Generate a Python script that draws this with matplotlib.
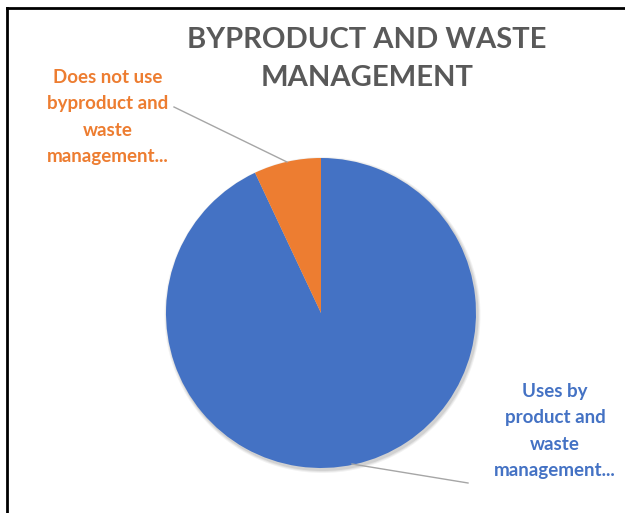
import matplotlib
matplotlib.use('Agg')
import matplotlib.pyplot as plt
from matplotlib.patches import Circle

# --- data --- #
labels = ['Uses by\nproduct and\nwaste\nmanagement...',
          'Does not use\nbyproduct and\nwaste\nmanagement...']
values = [93, 7]
colors = ['#4472C4', '#ED7D31']
title = 'BYPRODUCT AND WASTE\nMANAGEMENT'

# canvas in pixel units (y measured from bottom)
W, H = 625, 513
fig = plt.figure(figsize=(W / 100, H / 100), dpi=100)
ax = fig.add_axes([0, 0, 1, 1])
ax.set_xlim(0, W)
ax.set_ylim(0, H)
ax.set_aspect('equal')
ax.axis('off')

cx, cy, r = 321, H - 313, 155

# soft shadow under the pie
for i, a in enumerate([0.05, 0.06, 0.08]):
    ax.add_patch(Circle((cx + 1.5, cy - 2), r + 3 - i, color='black', alpha=a, lw=0, zorder=1))

wedges, _ = ax.pie(values, colors=colors, startangle=90, counterclock=False,
                   center=(cx, cy), radius=r, frame=True,
                   wedgeprops=dict(linewidth=0, zorder=2))
ax.set_xlim(0, W)
ax.set_ylim(0, H)
ax.axis('off')

fnt = 'Lato'
ax.text(367, H - 59, title, ha='center', va='center', fontsize=21,
        fontweight='bold', color='#595959', family=fnt, linespacing=1.6)

# data labels with leader lines
ax.text(108, H - 117, labels[1], ha='center', va='center', fontsize=13.5,
        fontweight='bold', color=colors[1], family=fnt, linespacing=1.68)
ax.plot([174, 287], [H - 107, H - 162], color='#A6A6A6', lw=1)

ax.text(555, H - 431, labels[0], ha='center', va='center', fontsize=13.5,
        fontweight='bold', color=colors[0], family=fnt, linespacing=1.68)
ax.plot([352, 468], [H - 464, H - 483], color='#A6A6A6', lw=1)

# chart border on top and left
ax.plot([6.5, 6.5], [0, H - 7.5], color='black', lw=2)
ax.plot([6.5, W], [H - 7.5, H - 7.5], color='black', lw=2)

plt.savefig('out.png', dpi=100)
